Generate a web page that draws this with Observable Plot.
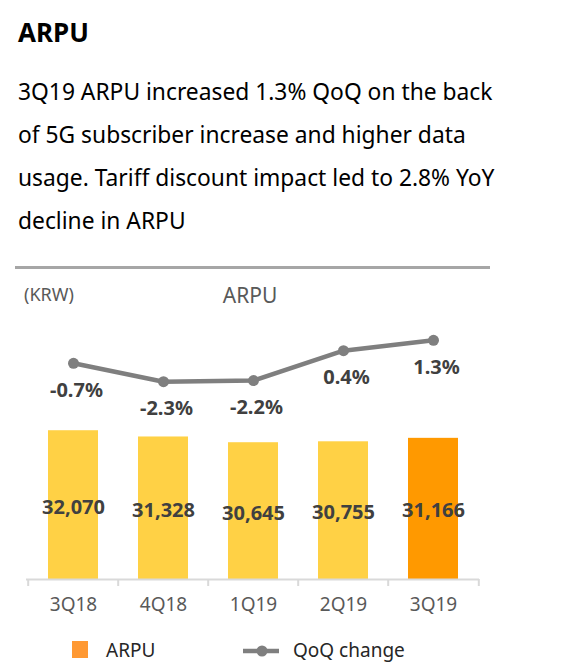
<!DOCTYPE html>
<html>
<head>
<meta charset="utf-8">
<script src="https://cdn.jsdelivr.net/npm/d3@7"></script>
<script src="https://cdn.jsdelivr.net/npm/@observablehq/plot@0.6"></script>
<style>
  html, body { margin: 0; padding: 0; background: #fff; }
  #page { position: relative; width: 574px; height: 671px; overflow: hidden; font-family: "Noto Sans", sans-serif; }
  .abs { position: absolute; white-space: nowrap; }
  #title { left: 18px; top: 12px; font-size: 26px; font-weight: bold; color: #000; line-height: 40px; }
  #subtitle { left: 18px; top: 70px; font-size: 22.8px; color: #000; line-height: 43px; }
  #divider { left: 15px; top: 266px; width: 475px; height: 3px; background: #a6a6a6; }
  #unit { left: 24px; top: 279px; font-size: 18px; color: #595959; line-height: 30px; }
  #ctitle { left: 200px; width: 100px; text-align: center; top: 278px; font-size: 21px; color: #595959; line-height: 34px; }
  .plotbox { position: absolute; left: 0; top: 270px; }
  #leg { left: 0; top: 634px; width: 574px; height: 34px; font-size: 19px; color: #262626; }
</style>
</head>
<body>
<div id="page">
  <div id="title" class="abs">ARPU</div>
  <div id="subtitle" class="abs">3Q19 ARPU increased 1.3% QoQ on the back<br>of 5G subscriber increase and higher data<br>usage. Tariff discount impact led to 2.8% YoY<br>decline in ARPU</div>
  <div id="divider" class="abs"></div>
  <div id="unit" class="abs">(KRW)</div>
  <div id="ctitle" class="abs">ARPU</div>
  <div id="bars" class="plotbox"></div>
  <div id="line" class="plotbox"></div>
  <div id="leg" class="abs"></div>
</div>
<script>
const quarters = ["3Q18", "4Q18", "1Q19", "2Q19", "3Q19"];
const arpu = [32070, 31328, 30645, 30755, 31166];
const qoq = [-0.7, -2.3, -2.2, 0.4, 1.3];
const qoqLabels = ["-0.7%", "-2.3%", "-2.2%", "0.4%", "1.3%"];
const highlight = "3Q19";

const colors = { bar: "#FFD145", barHi: "#FF9900", legendBar: "#FF9933", line: "#7F7F7F", axis: "#D9D9D9", label: "#404040", tick: "#595959" };

const rows = quarters.map((q, i) => ({ q, arpu: arpu[i], qoq: qoq[i], qoqLabel: qoqLabels[i] }));

const W = 574, H = 360, mL = 26, mR = 95, mT = 0, mB = 51;
const step = (W - mL - mR) / quarters.length;
const yDomain = [14400, 51100];
const lineDomain = [-19.5, 7.37];
const fmt = d3.format(",");

const common = {
  width: W, height: H, marginLeft: mL, marginRight: mR, marginTop: mT, marginBottom: mB,
  style: { background: "transparent", overflow: "visible", fontFamily: "'Noto Sans', sans-serif" },
  x: { type: "band", domain: quarters, padding: 0, axis: null }
};

const barPlot = Plot.plot({
  ...common,
  y: { domain: yDomain, axis: null },
  marks: [
    Plot.barY(rows, { x: "q", y1: yDomain[0], y2: "arpu", fill: d => d.q === highlight ? colors.barHi : colors.bar, insetLeft: 20, insetRight: 20 }),
    Plot.ruleY([yDomain[0]], { stroke: colors.axis, strokeWidth: 2 }),
    Plot.ruleX(quarters, { x: d => d, dx: -step / 2, y1: yDomain[0], y2: yDomain[0], insetBottom: -7, stroke: colors.axis, strokeWidth: 2 }),
    Plot.ruleX(quarters.slice(-1), { x: d => d, dx: step / 2, y1: yDomain[0], y2: yDomain[0], insetBottom: -7, stroke: colors.axis, strokeWidth: 2 }),
    Plot.text(rows, { x: "q", y: d => (yDomain[0] + d.arpu) / 2, dy: 2, text: d => fmt(d.arpu), fontSize: 20, fontWeight: "bold", fill: colors.label }),
    Plot.text(quarters, { x: d => d, frameAnchor: "bottom", dy: 31, text: d => d, fontSize: 19, fill: colors.tick })
  ]
});
document.getElementById("bars").append(barPlot);

const linePlot = Plot.plot({
  ...common,
  y: { domain: lineDomain, axis: null },
  marks: [
    Plot.line(rows, { x: "q", y: "qoq", stroke: colors.line, strokeWidth: 4.5 }),
    Plot.dot(rows, { x: "q", y: "qoq", r: 5.5, fill: colors.line, stroke: "none" }),
    Plot.text(rows, { x: "q", y: "qoq", dy: 27, dx: 3, text: "qoqLabel", fontSize: 20, fontWeight: "bold", fill: colors.label })
  ]
});
document.getElementById("line").append(linePlot);

// legend
const leg = d3.select("#leg");
leg.append("div").style("position", "absolute").style("left", "72px").style("top", "7px").style("width", "16px").style("height", "17px").style("background", colors.legendBar);
leg.append("div").style("position", "absolute").style("left", "106px").style("top", "0px").style("line-height", "32px").text("ARPU");
const ls = leg.append("svg").style("position", "absolute").style("left", "240px").style("top", "7px").attr("width", 44).attr("height", 20);
ls.append("line").attr("x1", 3).attr("x2", 39).attr("y1", 10).attr("y2", 10).attr("stroke", colors.line).attr("stroke-width", 4.5);
ls.append("circle").attr("cx", 22).attr("cy", 10).attr("r", 5.5).attr("fill", colors.line);
leg.append("div").style("position", "absolute").style("left", "293px").style("top", "0px").style("line-height", "32px").text("QoQ change");
</script>
</body>
</html>
